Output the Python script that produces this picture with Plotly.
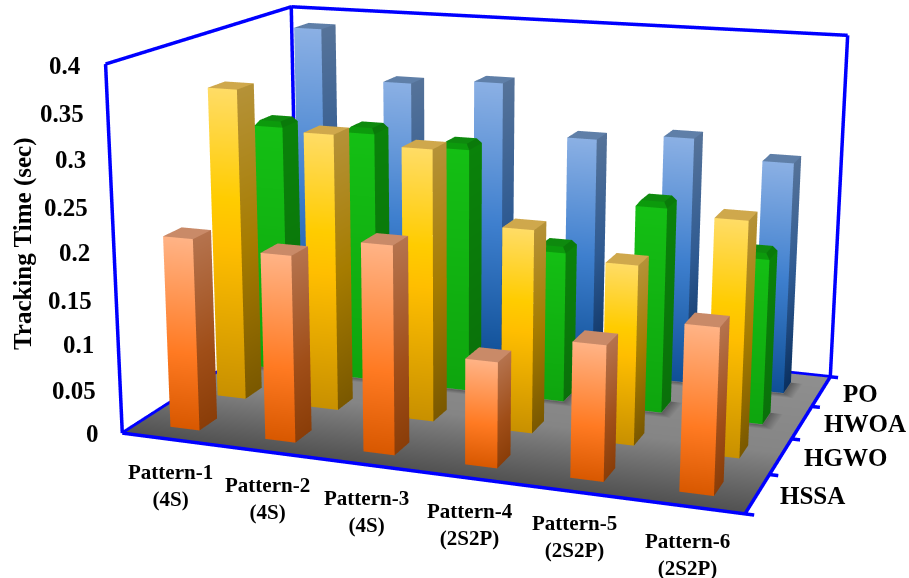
import plotly.graph_objects as go

# Chart data: tracking time in seconds per partial-shading pattern
patterns = ["Pattern-1<br>(4S)", "Pattern-2<br>(4S)", "Pattern-3<br>(4S)",
            "Pattern-4<br>(2S2P)", "Pattern-5<br>(2S2P)", "Pattern-6<br>(2S2P)"]
series = ["HSSA", "HGWO", "HWOA", "PO"]
hssa = [0.213, 0.205, 0.226, 0.114, 0.144, 0.174]
hgwo = [0.353, 0.311, 0.303, 0.225, 0.197, 0.254]
hwoa = [0.296, 0.296, 0.286, 0.178, 0.238, 0.191]
po = [0.387, 0.329, 0.336, 0.278, 0.287, 0.267]
z_ticks = ["0", "0.05", "0.1", "0.15", "0.2", "0.25", "0.3", "0.35", "0.4"]

W, H = 909, 578
# Ranges leave a small margin round the frame so its lines are not clipped
X_RANGE, Y_RANGE, Z_RANGE = [-0.05, 6.1], [-0.05, 4.05], [-0.002, 0.405]
BAR_W, BAR_D = 0.31, 0.37
FOVY = 0.2766  # narrow lens, radians
FLAT = dict(ambient=1, diffuse=0, specular=0, roughness=1, fresnel=0)

# (fraction of bar height, colour) stops for the front and side faces
PALETTES = [
    dict(front=[(0, "#D85800"), (.4, "#FF7A22"), (1, "#FFB386")],
         side=[(0, "#8A3D08"), (.4, "#A04E18"), (1, "#B5734E")], top="#C98A68"),
    dict(front=[(0, "#C89000"), (.5, "#FFBE00"), (.65, "#FFCC00"), (1, "#FFDC66")],
         side=[(0, "#7A5800"), (.5, "#A67C00"), (1, "#B59238")], top="#CFA84C"),
    dict(front=[(0, "#0EA50E"), (1, "#14BF14")],
         side=[(0, "#0A700A"), (1, "#0A820A")], top="#0E8A0E", bevel=True),
    dict(front=[(0, "#0F4F96"), (.5, "#3E7FCE"), (1, "#8BB0E4")],
         side=[(0, "#0A3060"), (.5, "#2E5A92"), (1, "#567399")], top="#5F7FA8"),
]

FLOOR_Z = -0.001
FLOOR_STOPS = [(0, 0x50), (1.6, 0x85), (4, 0x8F)]


def floor_colour(y):
    """Grey level of the floor at depth y."""
    for (a, ga), (b, gb) in zip(FLOOR_STOPS, FLOOR_STOPS[1:]):
        if y <= b:
            g = round(ga + (gb - ga) * (y - a) / (b - a))
            return f"rgb({g},{g},{g})"
    return "rgb(143,143,143)"


class Quads:
    """Collects quads into the vertex and index arrays of a Mesh3d."""

    def __init__(self):
        self.x, self.y, self.z, self.c, self.i, self.j, self.k = [], [], [], [], [], [], []

    def add(self, pts, cols):
        n = len(self.x)
        for (a, b, c), col in zip(pts, cols):
            self.x.append(a)
            self.y.append(b)
            self.z.append(c)
            self.c.append(col)
        self.i += [n, n]
        self.j += [n + 1, n + 2]
        self.k += [n + 2, n + 3]

    def trace(self):
        return go.Mesh3d(x=self.x, y=self.y, z=self.z, i=self.i, j=self.j, k=self.k,
                         vertexcolor=self.c, hoverinfo="skip", flatshading=True, lighting=FLAT)


def bar_trace(values, row, pal):
    q = Quads()
    bev, ins = (0.006, 0.04) if pal.get("bevel") else (0, 0)
    y0, y1 = row + .5 - BAR_D / 2, row + .5 + BAR_D / 2
    for col, h in enumerate(values):
        x0, x1 = col + .5 - BAR_W / 2, col + .5 + BAR_W / 2
        s = h - bev
        for (a, ca), (b, cb) in zip(pal["front"], pal["front"][1:]):
            q.add([(x0, y0, a * s), (x1, y0, a * s), (x1, y0, b * s), (x0, y0, b * s)], [ca, ca, cb, cb])
        for (a, ca), (b, cb) in zip(pal["side"], pal["side"][1:]):
            q.add([(x1, y0, a * s), (x1, y1, a * s), (x1, y1, b * s), (x1, y0, b * s)], [ca, ca, cb, cb])
        if bev:
            q.add([(x0, y0, s), (x1, y0, s), (x1 - ins, y0 + ins, h), (x0 + ins, y0 + ins, h)], ["#0C9A0C"] * 4)
            q.add([(x1, y0, s), (x1, y1, s), (x1 - ins, y1 - ins, h), (x1 - ins, y0 + ins, h)], ["#0A7A0A"] * 4)
        q.add([(x0 + ins, y0 + ins, h), (x1 - ins, y0 + ins, h), (x1 - ins, y1 - ins, h), (x0 + ins, y1 - ins, h)],
              [pal["top"]] * 4)
    return q.trace()


def shadow_trace(rows):
    # soft contact shadows around the bases of the rear rows
    q = Quads()
    z, dark, reach = FLOOR_Z / 2, "#5c5c5c", 0.12
    for row in rows:
        y0, y1 = row + .5 - BAR_D / 2, row + .5 + BAR_D / 2
        out = floor_colour(y0 - reach)
        for col in range(len(patterns)):
            x0, x1 = col + .5 - BAR_W / 2, col + .5 + BAR_W / 2
            q.add([(x0 - .03, y0 - reach, z), (x1 + reach, y0 - reach, z), (x1, y0, z), (x0, y0, z)],
                  [out, out, dark, dark])
            q.add([(x1, y0, z), (x1 + reach, y0 - reach, z), (x1 + reach, y1, z), (x1, y1, z)],
                  [dark, out, out, dark])
    return q.trace()


fig = go.Figure()

# floor
floor = Quads()
for (a, _), (b, _) in zip(FLOOR_STOPS, FLOOR_STOPS[1:]):
    floor.add([(0, a, FLOOR_Z), (6, a, FLOOR_Z), (6, b, FLOOR_Z), (0, b, FLOOR_Z)],
              [floor_colour(a), floor_colour(a), floor_colour(b), floor_colour(b)])
fig.add_trace(floor.trace())
fig.add_trace(shadow_trace([2, 3]))

# bars
for row, values in enumerate([hssa, hgwo, hwoa, po]):
    fig.add_trace(bar_trace(values, row, PALETTES[row]))

# blue frame and depth-axis tick marks
segments = [[(0, 0, 0), (6, 0, 0)], [(0, 0, 0), (0, 4, 0)], [(6, 0, 0), (6, 4, 0)], [(0, 4, 0), (6, 4, 0)],
            [(0, 0, 0), (0, 0, .4)], [(0, 4, 0), (0, 4, .4)], [(6, 4, 0), (6, 4, .4)],
            [(0, 0, .4), (0, 4, .4)], [(0, 4, .4), (6, 4, .4)]]
segments += [[(6, t, 0), (6.08, t, 0)] for t in range(5)]
lx, ly, lz = [], [], []
for a, b in segments:
    lx += [a[0], b[0], None]
    ly += [a[1], b[1], None]
    lz += [a[2], b[2], None]
fig.add_trace(go.Scatter3d(x=lx, y=ly, z=lz, mode="lines", line=dict(color="#0000ff", width=7), hoverinfo="skip"))

# text
annotations = []


def label(text, px, py, size, anchor="center", angle=0):
    annotations.append(dict(text=f"<b>{text}</b>", x=px / W, y=1 - py / H, xref="paper", yref="paper",
                            xanchor=anchor, yanchor="middle", showarrow=False, textangle=angle,
                            font=dict(family="Liberation Serif", size=size, color="#000")))


for t, px, py in zip(z_ticks, [101, 98, 96, 94, 92, 90, 88, 86, 83], [433, 390, 344, 300, 253, 207, 159, 113, 65]):
    label(t, px, py, 25, "right")
for t, (px, py) in zip(patterns, [(170, 485), (267, 498), (366, 511), (470, 524), (574, 536), (687, 554)]):
    label(t, px, py, 21)
for t, (px, py) in zip(series, [(812, 495), (845, 457), (865, 423), (860, 393)]):
    label(t, px, py, 25)
label("Tracking Time (sec)", 23, 244, 25, "center", -90)

fig.update_layout(
    width=W, height=H, margin=dict(l=0, r=0, t=0, b=0), showlegend=False, paper_bgcolor="white",
    annotations=annotations,
    scene=dict(
        domain=dict(x=[0, 1], y=[0, 1]),
        xaxis=dict(visible=False, range=X_RANGE),
        yaxis=dict(visible=False, range=Y_RANGE),
        zaxis=dict(visible=False, range=Z_RANGE),
        aspectmode="manual", aspectratio=dict(x=1.0082, y=0.67958, z=0.58883),
        camera=dict(eye=dict(x=1.0401, y=-3.0216, z=0.7886),
                    center=dict(x=0.0581, y=-0.3405, z=-0.0036),
                    up=dict(x=0, y=0, z=1)),
    ),
)

# Plotly has no lens setting, so the field of view is set on the GL scene after plotting
post_script = """var gd = document.getElementById('{plot_id}');
function lens() {
  var s = gd._fullLayout.scene && gd._fullLayout.scene._scene;
  if (s && s.glplot) { s.glplot.fovy = %s; s.glplot.redraw(); }
}
lens(); setTimeout(lens, 50); setTimeout(lens, 300); gd.on('plotly_afterplot', lens);""" % FOVY
fig.write_html("out.html", post_script=post_script)
